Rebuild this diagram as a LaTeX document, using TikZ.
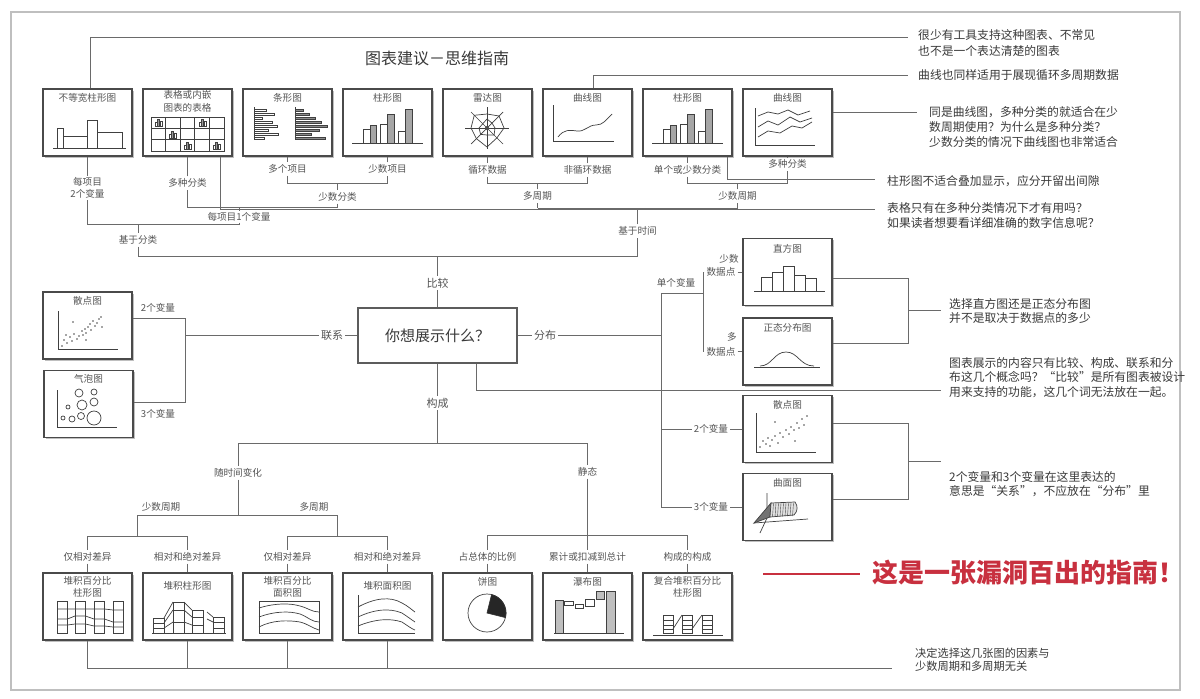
\documentclass[tikz,border=0pt]{standalone}
\usepackage{fontspec}
\setmainfont{Noto Sans CJK SC}
\usetikzlibrary{shadows,calc}
\definecolor{lncol}{HTML}{6A6A6A}
\definecolor{boxcol}{HTML}{4A4A4A}
\definecolor{txtcol}{HTML}{3A3A3A}
\definecolor{lblcol}{HTML}{555555}
\definecolor{redcol}{HTML}{C8303F}
\begin{document}
\begin{tikzpicture}[x=1pt,y=-1pt,
  chart/.style={draw=boxcol, line width=1.3pt, fill=white, minimum width=89pt, minimum height=67pt, inner sep=0pt,
    drop shadow={shadow xshift=1.6pt, shadow yshift=-1.6pt, opacity=0.55, fill=black!45}},
  ttl/.style={font=\fontsize{9.6}{12}\selectfont, text=lblcol, anchor=north, inner sep=0pt, align=center},
  lbl/.style={font=\fontsize{9.6}{11.5}\selectfont, text=lblcol, inner sep=2pt, align=center},
  note/.style={font=\fontsize{11.8}{15}\selectfont, text=txtcol, anchor=west, inner sep=0pt, align=left},
  conn/.style={draw=lncol, line width=0.9pt},
  ico/.style={draw=black!75, line width=0.7pt},
  icf/.style={draw=black!75, line width=0.7pt, fill=black!35},
]
\useasboundingbox (0,0) rectangle (1200,699);
\fill[white] (0,0) rectangle (1200,699);
\draw[black!25, line width=1.2pt] (11,12) rectangle (1180,690);

% title
\node[font=\fontsize{16}{18}\selectfont, text=txtcol] (title) at (437,58) {图表建议－思维指南};

% ---------------- top row boxes
\foreach \i/\x in {1/87.5,2/187.5,3/287.5,4/387.5,5/487.5,6/587.5,7/687.5,8/787.5}
  \node[chart] (t\i) at (\x,122.5) {};
\node[ttl] (tt1) at ([yshift=-5pt]t1.north) {不等宽柱形图};
\node[ttl, font=\fontsize{9.6}{12.5}\selectfont] (tt2) at ([yshift=-2pt]t2.north) {表格或内嵌\\图表的表格};
\node[ttl] (tt3) at ([yshift=-5pt]t3.north) {条形图};
\node[ttl] (tt4) at ([yshift=-5pt]t4.north) {柱形图};
\node[ttl] (tt5) at ([yshift=-5pt]t5.north) {雷达图};
\node[ttl] (tt6) at ([yshift=-5pt]t6.north) {曲线图};
\node[ttl] (tt7) at ([yshift=-5pt]t7.north) {柱形图};
\node[ttl] (tt8) at ([yshift=-5pt]t8.north) {曲线图};

% icon t1: unequal width columns
\draw[ico] (53,148) -- (126,148);
\draw[ico] (57,148) rectangle (63,128);
\draw[ico] (63,148) rectangle (87,136);
\draw[ico] (87,148) rectangle (97,120);
\draw[ico] (97,148) rectangle (122,132);

% icon t2: table
\draw[ico] (151,117) rectangle (224,151);
\foreach \k in {1,2,3,4} \draw[ico] ({151+14.6*\k},117) -- ({151+14.6*\k},151);
\foreach \k in {1,2} \draw[ico] (151,{117+11.33*\k}) -- (224,{117+11.33*\k});
\foreach \c/\r in {1/1,4/1,2/2,3/3,5/3}{
  \draw[line width=0.5pt, draw=black!75] ({151+14.6*(\c-1)+4},{117+11.33*(\r-1)+9.5}) rectangle ++(2,-4);
  \filldraw[line width=0.5pt, draw=black!75, fill=black!40] ({151+14.6*(\c-1)+6},{117+11.33*(\r-1)+9.5}) rectangle ++(2,-7);
  \draw[line width=0.5pt, draw=black!75] ({151+14.6*(\c-1)+9},{117+11.33*(\r-1)+9.5}) rectangle ++(2,-5);
}

% icon t3: bar charts
\draw[ico] (254,107) -- (254,140);
\foreach \k/\l in {0/12,1/20,2/8,3/18,4/23,5/14,6/24,7/10}
  \draw[line width=0.5pt, draw=black!75] (254,{109+4*\k}) rectangle ++(\l,2.6);
\draw[ico] (295,107) -- (295,140);
\foreach \k/\l in {0/8,1/14,2/20,3/26,4/32,5/24,6/16,7/30}
  \filldraw[line width=0.4pt, draw=black!75, fill=black!45] (295,{109+4*\k}) rectangle ++(\l,2.6);

% icon t4, t7: column charts
\foreach \L in {343,643}{
  \draw[ico] (\L+9,143) -- (\L+80,143);
  \draw[ico] (\L+20,143) rectangle (\L+27,129);
  \filldraw[icf] (\L+27,143) rectangle (\L+33,125);
  \draw[ico] (\L+37,143) rectangle (\L+44,124);
  \filldraw[icf] (\L+44,143) rectangle (\L+51,114);
  \draw[ico] (\L+55,143) rectangle (\L+62,131);
  \filldraw[icf] (\L+62,143) rectangle (\L+69,109);
}

% icon t5: radar
\begin{scope}[shift={(487,128)}]
  \draw[ico] (-22,0) -- (22,0);
  \draw[ico] (0,-21) -- (0,21);
  \draw[ico] (-16,-16) -- (16,16);
  \draw[ico] (16,-16) -- (-16,16);
  \draw[ico] (0:17) -- (45:14) -- (90:19) -- (135:15) -- (180:16) -- (225:18) -- (270:14) -- (315:17) -- cycle;
  \draw[ico] (0:8) -- (45:10) -- (90:7) -- (135:9) -- (180:8) -- (225:6) -- (270:9) -- (315:7) -- cycle;
  \fill[black!70] (0,0) circle[radius=2];
\end{scope}

% icon t6: curve
\draw[ico] (553,105) -- (553,141) -- (614,141);
\draw[ico] (558,137) .. controls (564,129) and (570,130) .. (577,131) .. controls (585,132) and (588,125) .. (596,125) .. controls (603,125) and (606,120) .. (612,114);

% icon t8: multi curves
\draw[ico] (755,108) -- (755,145) -- (815,145);
\draw[ico] (758,116) -- (768,112) -- (778,114) -- (788,110) -- (798,115) -- (810,111);
\draw[ico] (758,127) -- (768,121) -- (778,125) -- (790,117) -- (800,122) -- (812,118);
\draw[ico] (758,137) -- (768,131) -- (780,133) -- (792,126) -- (802,128) -- (812,122);

% ---------------- labels below the top row
\node[lbl] (Lt1) at (87.5,188) {每项目\\2个变量};
\node[lbl] (Lt2) at (187.5,183) {多种分类};
\node[lbl] (Lt3) at (287.5,169) {多个项目};
\node[lbl] (Lt4) at (387.5,169) {少数项目};
\node[lbl] (Lt5) at (487.5,170) {循环数据};
\node[lbl] (Lt6) at (587.5,170) {非循环数据};
\node[lbl] (Lt7) at (687.5,170) {单个或少数分类};
\node[lbl] (Lt8) at (787.5,164) {多种分类};
\node[lbl] (Lss) at (337.5,197) {少数分类};
\node[lbl, inner sep=1pt] (Lm1) at (239,217) {每项目1个变量};
\node[lbl] (Ljf) at (138,240) {基于分类};
\node[lbl] (Ldz) at (537.5,196) {多周期};
\node[lbl] (Lsz) at (737.5,196) {少数周期};
\node[lbl] (Ljt) at (637.5,231) {基于时间};
\node[lbl, font=\fontsize{11}{13}\selectfont] (Lbj) at (437.5,283) {比较};

% junction coordinates (top tree)
\coordinate (h3) at (287.5,183);
\coordinate (h4) at (387.5,183);
\coordinate (j34) at (337.5,183);
\coordinate (h2l) at (187.5,207);
\coordinate (h2r) at (337.5,207);
\coordinate (jm) at (239,207);
\coordinate (k239) at (239,224);
\coordinate (h1l) at (87.5,224);
\coordinate (jk) at (138,224);
\coordinate (g1) at (138,256);
\coordinate (g2) at (637.5,256);
\coordinate (jb) at (437.5,256);
\coordinate (jt) at (637.5,208);
\coordinate (p1) at (537.5,208);
\coordinate (p2) at (737.5,208);
\coordinate (q5) at (487.5,183);
\coordinate (q6) at (587.5,183);
\coordinate (q56) at (537.5,183);
\coordinate (q7) at (687.5,183);
\coordinate (q8) at (787.5,183);
\coordinate (q78) at (737.5,183);

\draw[conn] (t3) -- (Lt3) -- (h3) -- (h4) -- (Lt4) -- (t4);
\draw[conn] (j34) -- (Lss) -- (h2r) -- (h2l) -- (Lt2) -- (t2);
\draw[conn] (jm) -- (Lm1) -- (k239) -- (h1l) -- (Lt1) -- (t1);
\draw[conn] (jk) -- (Ljf) -- (g1) -- (g2) -- (Ljt) -- (jt);
\draw[conn] (jb) -- (Lbj);
\draw[conn] (p1) -- (p2);
\draw[conn] (p1) -- (Ldz) -- (q56);
\draw[conn] (t5) -- (Lt5) -- (q5) -- (q6) -- (Lt6) -- (t6);
\draw[conn] (p2) -- (Lsz) -- (q78);
\draw[conn] (t7) -- (Lt7) -- (q7) -- (q8) -- (Lt8) -- (t8);

% annotation connectors (top)
\coordinate (c1) at (90,37);   \coordinate (c2) at (908,37);
\coordinate (c3) at (593,75);  \coordinate (c4) at (908,75);
\coordinate (c5) at (917,112);
\coordinate (a1) at (220,209); \coordinate (a2) at (875,209);
\coordinate (a3) at (727,179); \coordinate (a4) at (875,179);
\draw[conn] (t1.north -| c1) -- (c1) -- (c2);
\draw[conn] (t6.north -| c3) -- (c3) -- (c4);
\draw[conn] (t8.east |- c5) -- (c5);
\draw[conn] (t2.south -| a1) -- (a1) -- (a2);
\draw[conn] (t7.south -| a3) -- (a3) -- (a4);

\node[note, font=\fontsize{11.8}{16}\selectfont] (n1) at (918,43) {很少有工具支持这种图表、不常见\\也不是一个表达清楚的图表};
\node[note] (n2) at (918,75) {曲线也同样适用于展现循环多周期数据};
\node[note] (n3) at (929,127) {同是曲线图，多种分类的就适合在少\\数周期使用？为什么是多种分类？\\少数分类的情况下曲线图也非常适合};
\node[note] (n4) at (887,181) {柱形图不适合叠加显示，应分开留出间隙};
\node[note] (n5) at (887,215.5) {表格只有在多种分类情况下才有用吗？\\如果读者想要看详细准确的数字信息呢？};

% ---------------- centre
\node[draw=boxcol!90, line width=1.2pt, fill=white, minimum width=159pt, minimum height=55pt,
      font=\fontsize{15}{17}\selectfont, text=txtcol] (cbox) at (437.5,335.5) {你想展示什么？};
\draw[conn] (Lbj) -- (cbox);

% 联系 branch
\node[chart] (m1) at (87.5,325.5) {};
\node[chart] (m2) at (88.5,404) {};
\node[ttl] (tm1) at ([yshift=-5pt]m1.north) {散点图};
\node[ttl] (tm2) at ([yshift=-4pt]m2.north) {气泡图};
\node[lbl, font=\fontsize{11}{13}\selectfont] (Llx) at (332,335.5) {联系};
\node[lbl] (L2a) at (158,308) {2个变量};
\node[lbl] (L3a) at (158,414) {3个变量};
\coordinate (lj) at (185,335.5);
\coordinate (ly1) at (185,318);
\coordinate (ly2) at (185,402);
\draw[conn] (cbox) -- (Llx) -- (lj);
\draw[conn] (m1.east |- ly1) -- (ly1) -- (ly2) -- (m2.east |- ly2);

% scatter icon (left)
\draw[ico] (58,311) -- (58,349) -- (118,349);
\foreach \px/\py in {62/346,64/340,67/343,70/337,72/341,74/334,77/339,79/336,82/331,83/335,85/329,86/333,88/327,90/324,91/330,93/321,95/326,97/323,99/319,101/317,102/327,73/322,86/340,66/335}
  \fill[black!70] (\px,\py) circle[radius=0.9];

% bubble icon
\draw[ico] (57,390) -- (57,427) -- (117,427);
\foreach \px/\py/\r in {79/393/4,94/392/3,82/405/5,94/402/4,68/407/2,63/418/2,72/419/3,81/416/3.5,94/418/7}
  \draw[ico] (\px,\py) circle[radius=\r];

% 分布 branch
\node[lbl, font=\fontsize{11}{13}\selectfont] (Lfb) at (545,335.5) {分布};
\coordinate (dm) at (661,335.5);
\coordinate (d1) at (661,293);
\coordinate (d2) at (661,507);
\coordinate (sv) at (703,293);
\coordinate (e3) at (661,429);
\draw[conn] (cbox) -- (Lfb) -- (dm);
\draw[conn] (d1) -- (d2);
\draw[conn] (d1) -- (sv);
\node[lbl] (Ldv) at (676,283) {单个变量};

\node[chart] (r1) at (787.5,272) {};
\node[chart] (r2) at (787.5,351.5) {};
\node[chart] (r3) at (787.5,429) {};
\node[chart] (r4) at (787.5,507) {};
\node[ttl] (tr1) at ([yshift=-6pt]r1.north) {直方图};
\node[ttl] (tr2) at ([yshift=-6pt]r2.north) {正态分布图};
\node[ttl] (tr3) at ([yshift=-5pt]r3.north) {散点图};
\node[ttl] (tr4) at ([yshift=-5pt]r4.north) {曲面图};

\node[lbl, inner sep=1pt] (ls1) at (729,259) {少数};
\node[lbl, inner sep=2pt] (ld1) at (721,272) {数据点};
\node[lbl, inner sep=1pt] (ls2) at (732,337) {多};
\node[lbl, inner sep=2pt] (ld2) at (721,351.5) {数据点};
\coordinate (k1) at (703,272);
\coordinate (k2) at (703,351.5);
\draw[conn] (ld1) -- (k1) -- (k2) -- (ld2);
\draw[conn] (ld1) -- (r1);
\draw[conn] (ld2) -- (r2);

\node[lbl] (L2v) at (711,429) {2个变量};
\node[lbl] (L3v) at (711,507) {3个变量};
\draw[conn] (e3) -- (L2v) -- (r3);
\draw[conn] (d2) -- (L3v) -- (r4);

% histogram icon
\draw[ico] (754,291) -- (825,291);
\foreach \bx/\bt in {761/277,772/272,783/266,794/275,805/278}
  \draw[ico] (\bx,291) rectangle (\bx+11,\bt);
% normal icon
\draw[ico] (754,367) -- (820,367);
\draw[ico] (760,366) .. controls (772,366) and (774,352) .. (786,352) .. controls (798,352) and (800,366) .. (814,366);
% scatter icon (right)
\draw[ico] (756,413) -- (756,452) -- (816,452);
\foreach \px/\py in {760/447,763/441,766/444,768/438,772/440,775/436,778/443,780/433,783/437,786/430,789/434,791/427,794/430,797/423,799/428,802/419,804/425,807/416,775/422,795/441,770/446}
  \fill[black!70] (\px,\py) circle[radius=0.9];
% surface icon
\draw[ico] (767,493) -- (767,518) -- (760,533);
\draw[ico] (754,523) -- (808,519);
\filldraw[ico, fill=black!55] (754,523) -- (770,517) -- (771,503) -- cycle;
\filldraw[ico, fill=black!12] (771,503) -- (795,502) .. controls (798,506) and (798,511) .. (794,515) -- (770,517) -- cycle;
\foreach \t in {1,...,9}
  \draw[line width=0.4pt, draw=black!70] ({771+2.5*\t},503) -- ({770+2.5*\t},{517-0.1*\t});

% right brackets
\coordinate (b1a) at (908,278); \coordinate (b1b) at (908,343);
\coordinate (b1m) at (908,310.5); \coordinate (b1n) at (941,310.5);
\coordinate (b2a) at (908,423); \coordinate (b2b) at (908,499);
\coordinate (b2m) at (908,461); \coordinate (b2n) at (941,461);
\draw[conn] (r1.east |- b1a) -- (b1a) -- (b1b) -- (r2.east |- b1b);
\draw[conn] (b1m) -- (b1n);
\draw[conn] (r3.east |- b2a) -- (b2a) -- (b2b) -- (r4.east |- b2b);
\draw[conn] (b2m) -- (b2n);
\coordinate (q1) at (476,390); \coordinate (q2) at (941,390);
\draw[conn] (cbox.south -| q1) -- (q1) -- (q2);

\node[note, font=\fontsize{11.8}{14}\selectfont] (n6) at (949,311) {选择直方图还是正态分布图\\并不是取决于数据点的多少};
\node[note, font=\fontsize{11.8}{14.5}\selectfont] (n7) at (949,377.5) {图表展示的内容只有比较、构成、联系和分\\布这几个概念吗？“比较”是所有图表被设计\\用来支持的功能，这几个词无法放在一起。};
\node[note, font=\fontsize{11.8}{14}\selectfont] (n8) at (949,484) {2个变量和3个变量在这里表达的\\意思是“关系”，不应放在“分布”里};

% ---------------- 构成 branch
\node[lbl, font=\fontsize{11}{13}\selectfont] (Lgc) at (437.5,403) {构成};
\coordinate (gj) at (437.5,443);
\coordinate (gl) at (238,443);
\coordinate (gr) at (587.5,443);
\draw[conn] (cbox) -- (Lgc) -- (gj);
\draw[conn] (gl) -- (gr);
\node[lbl] (Lsj) at (238,473) {随时间变化};
\coordinate (sj) at (238,515);
\coordinate (sjl) at (137.5,515);
\coordinate (sjr) at (337.5,515);
\draw[conn] (gl) -- (Lsj) -- (sj);
\draw[conn] (sjl) -- (sjr);
\node[lbl] (Lsq) at (161,507) {少数周期};
\node[lbl] (Ldq) at (314,507) {多周期};
\coordinate (x1) at (137.5,536);
\coordinate (x2) at (337.5,536);
\coordinate (u1) at (87.5,536);
\coordinate (u2) at (187.5,536);
\coordinate (u3) at (287.5,536);
\coordinate (u4) at (387.5,536);
\draw[conn] (sjl) -- (x1);
\draw[conn] (sjr) -- (x2);
\draw[conn] (u1) -- (u2);
\draw[conn] (u3) -- (u4);

\node[lbl] (Lst) at (587.5,472) {静态};
\coordinate (st) at (587.5,535);
\coordinate (u5) at (487.5,535);
\coordinate (u6) at (587.5,535);
\coordinate (u7) at (687.5,535);
\draw[conn] (gr) -- (Lst) -- (st);
\draw[conn] (u5) -- (u7);

\foreach \i/\x in {1/87.5,2/187.5,3/287.5,4/387.5,5/487.5,6/587.5,7/687.5}
  \node[chart] (b\i) at (\x,606.5) {};

\node[lbl] (Lb1) at (87.5,557) {仅相对差异};
\node[lbl] (Lb2) at (187.5,557) {相对和绝对差异};
\node[lbl] (Lb3) at (287.5,557) {仅相对差异};
\node[lbl] (Lb4) at (387.5,557) {相对和绝对差异};
\node[lbl] (Lb5) at (487.5,557) {占总体的比例};
\node[lbl] (Lb6) at (587.5,557) {累计或扣减到总计};
\node[lbl] (Lb7) at (687.5,557) {构成的构成};
\foreach \i in {1,...,7}
  \draw[conn] (u\i) -- (Lb\i) -- (b\i);

\node[ttl, font=\fontsize{9.6}{12}\selectfont] (tb1) at ([yshift=-4pt]b1.north) {堆积百分比\\柱形图};
\node[ttl] (tb2) at ([yshift=-9pt]b2.north) {堆积柱形图};
\node[ttl, font=\fontsize{9.6}{12}\selectfont] (tb3) at ([yshift=-4pt]b3.north) {堆积百分比\\面积图};
\node[ttl] (tb4) at ([yshift=-9pt]b4.north) {堆积面积图};
\node[ttl] (tb5) at ([yshift=-5pt]b5.north) {饼图};
\node[ttl] (tb6) at ([yshift=-5pt]b6.north) {瀑布图};
\node[ttl, font=\fontsize{9.6}{12}\selectfont] (tb7) at ([yshift=-4pt]b7.north) {复合堆积百分比\\柱形图};

% bottom connector
\coordinate (v1) at (87.5,668);
\coordinate (v9) at (892,668);
\draw[conn] (b1) -- (v1) -- (v9);
\draw[conn] (b2) -- (b2 |- v1);
\draw[conn] (b3) -- (b3 |- v1);
\draw[conn] (b4) -- (b4 |- v1);
\node[note, font=\fontsize{11.2}{13}\selectfont] (n9) at (915,659.5) {决定选择这几张图的因素与\\少数周期和多周期无关};

% icon b1: stacked percent columns
\foreach \cx in {57,75,94,113}
  \draw[ico] (\cx,601) rectangle (\cx+10.5,633);
\draw[ico] (57,609) -- (67.5,609) -- (75,609) -- (85.5,609) -- (94,609) -- (104.5,609) -- (113,610) -- (123.5,610);
\draw[ico] (57,619) -- (67.5,619) -- (75,616) -- (85.5,616) -- (94,619) -- (104.5,619) -- (113,622) -- (123.5,622);
\draw[ico] (57,625) -- (67.5,625) -- (75,624) -- (85.5,624) -- (94,626) -- (104.5,626) -- (113,627) -- (123.5,627);

% icon b2: stacked columns
\draw[ico] (152,633) -- (226,633);
\foreach \cx/\ct/\da/\db in {153/618/623/628,173/602/610/622,192/610/617/625,213/617/622/628}{
  \draw[ico] (\cx,633) rectangle (\cx+11,\ct);
  \draw[ico] (\cx,\da) -- (\cx+11,\da);
  \draw[ico] (\cx,\db) -- (\cx+11,\db);
}
\draw[ico] (164,618) -- (173,602);
\draw[ico] (164,623) -- (173,610);
\draw[ico] (164,628) -- (173,622);
\draw[ico] (184,602) -- (192,610);
\draw[ico] (184,610) -- (192,617);
\draw[ico] (184,622) -- (192,625);
\draw[ico] (207,612) -- (213,617);
\draw[ico] (207,619) -- (213,622);

% icon b3: stacked percent area
\draw[ico] (259,601) rectangle (319,633);
\draw[ico] (259,608) .. controls (275,603) and (290,603) .. (300,606) .. controls (308,608) and (312,612) .. (319,612);
\draw[ico] (259,617) .. controls (275,611) and (290,611) .. (300,614) .. controls (308,617) and (312,622) .. (319,622);
\draw[ico] (259,627) .. controls (272,620) and (288,620) .. (300,622) .. controls (308,624) and (312,628) .. (319,630);

% icon b4: stacked area
\draw[ico] (358,595) -- (358,633) -- (415,633);
\draw[ico] (358,607) .. controls (375,598) and (390,596) .. (402,603) .. controls (408,606) and (412,610) .. (415,612);
\draw[ico] (358,617) .. controls (375,609) and (390,608) .. (402,613) .. controls (408,617) and (412,620) .. (415,622);
\draw[ico] (358,626) .. controls (375,619) and (390,618) .. (402,622) .. controls (408,626) and (412,629) .. (415,630);

% icon b5: pie
\draw[ico] (487,613) circle[radius=19];
\filldraw[draw=black!80, fill=black!85, line width=0.7pt] (487,613) -- ++(-76:19) arc[start angle=-76, end angle=14, radius=19] -- cycle;

% icon b6: waterfall
\draw[ico] (554,633) -- (624,633);
\filldraw[icf, fill=black!25] (555,600) rectangle (563,633);
\draw[ico] (564,601) rectangle (573,605);
\draw[ico] (575,604) rectangle (583,608);
\draw[ico] (585,599) rectangle (594,606);
\filldraw[icf, fill=black!25] (596,591) rectangle (604,599);
\filldraw[icf, fill=black!25] (606,591) rectangle (615,633);

% icon b7: composite stacked percent columns
\draw[ico] (653,635) -- (723,635);
\foreach \cx in {663,682,702}{
  \draw[ico] (\cx,633) rectangle (\cx+10,615);
  \draw[ico] (\cx,620) -- (\cx+10,620);
  \draw[ico] (\cx,625) -- (\cx+10,625);
  \draw[ico] (\cx,629) -- (\cx+10,629);
}
\draw[ico] (673,629) -- (682,615);
\draw[ico] (692,629) -- (702,615);

% ---------------- red remark
\node[anchor=west, inner sep=0pt, text=redcol, font=\fontsize{26}{29}\selectfont\bfseries] (red) at (872,573) {这是一张漏洞百出的指南！};
\coordinate (rl1) at (763,574);
\draw[redcol, line width=2pt] (rl1) -- ([xshift=-12pt]red.west |- rl1);
\end{tikzpicture}
\end{document}
